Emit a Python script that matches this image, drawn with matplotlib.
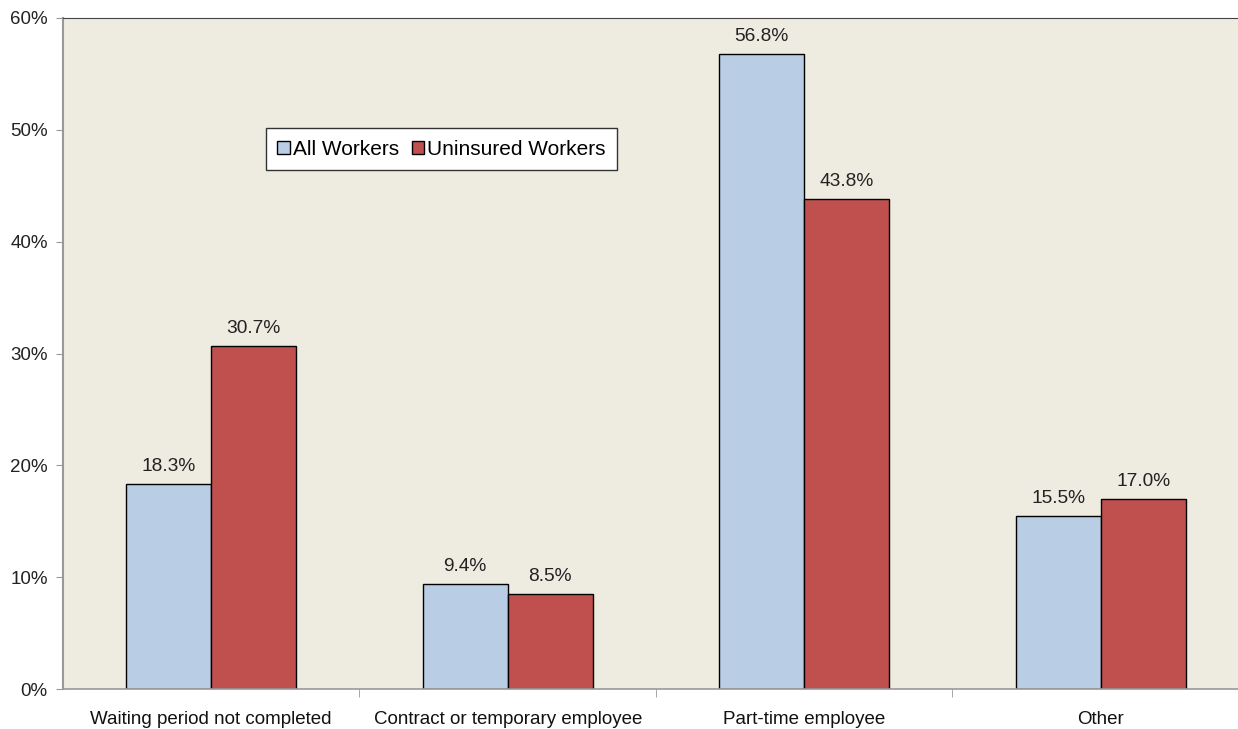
import matplotlib.pyplot as plt
import numpy as np
from matplotlib.ticker import PercentFormatter

# Data
categories = ["Waiting period not completed", "Contract or temporary employee",
              "Part-time employee", "Other"]
all_workers = [18.3, 9.4, 56.8, 15.5]
uninsured_workers = [30.7, 8.5, 43.8, 17.0]

plt.rcParams["font.family"] = ["Liberation Sans", "DejaVu Sans"]

fig = plt.figure(figsize=(12.38, 7.29), dpi=100)
ax = fig.add_axes([63 / 1238, 40 / 729, 1175 / 1238, 671 / 729])
ax.set_facecolor("#EEEBE1")

x = np.arange(len(categories))
w = 0.287
b1 = ax.bar(x - w / 2, all_workers, w, color="#B9CDE5", edgecolor="black",
            linewidth=1, label="All Workers")
b2 = ax.bar(x + w / 2, uninsured_workers, w, color="#C0504D", edgecolor="black",
            linewidth=1, label="Uninsured Workers")

for bars, vals in [(b1, all_workers), (b2, uninsured_workers)]:
    for bar, v in zip(bars, vals):
        ax.text(bar.get_x() + bar.get_width() / 2, v + 0.8, f"{v:.1f}%",
                ha="center", va="bottom", fontsize=13.8, color="#222222")

ax.set_xlim(-0.5, 3.463)
ax.set_ylim(0, 60)
ax.set_yticks(range(0, 61, 10))
ax.yaxis.set_major_formatter(PercentFormatter(decimals=0))
ax.tick_params(axis="y", labelsize=13.5, length=5, color="#999999",
               labelcolor="#222222", pad=6)

ax.set_xticks(x)
ax.set_xticklabels(categories)
ax.tick_params(axis="x", which="major", length=0, labelsize=13.5,
               labelcolor="#111111", pad=16)
ax.set_xticks([0.5, 1.5, 2.5], minor=True)
ax.tick_params(axis="x", which="minor", length=6, color="#999999")

ax.spines["right"].set_visible(False)
ax.spines["top"].set_color("#444444")
ax.spines["left"].set_color("#999999")
ax.spines["bottom"].set_color("#999999")
ax.spines["left"].set_linewidth(1.5)
ax.spines["bottom"].set_linewidth(1.2)

leg = ax.legend(loc="upper left", bbox_to_anchor=(0.1728, 0.836), ncol=2,
                fontsize=15, frameon=True, fancybox=False, handlelength=0.6,
                handleheight=0.6, handletextpad=0.15, columnspacing=0.6,
                borderpad=0.55, borderaxespad=0)
leg.get_frame().set_edgecolor("#333333")
leg.get_frame().set_facecolor("white")
leg.get_frame().set_alpha(1)

plt.savefig("out.png", dpi=100)
